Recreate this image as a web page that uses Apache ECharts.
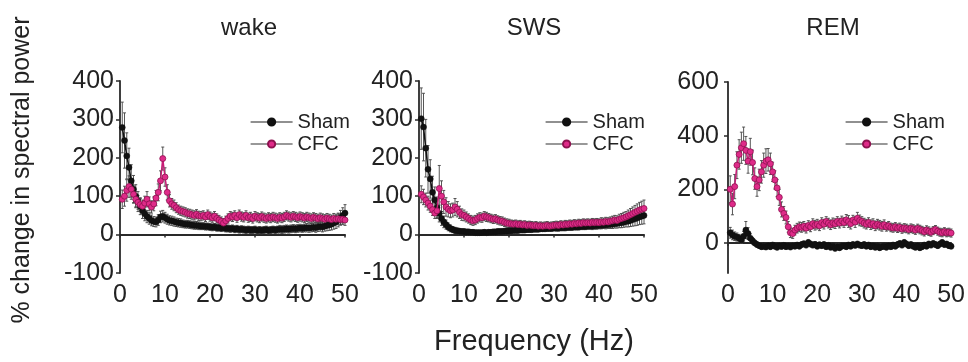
<!DOCTYPE html>
<html>
<head>
<meta charset="utf-8">
<script src="https://cdn.jsdelivr.net/npm/echarts@6/dist/echarts.min.js"></script>
<style>
html,body{margin:0;padding:0;background:#fff;}
#chart{width:968px;height:362px;}
</style>
</head>
<body>
<div id="chart"></div>
<script>
// ---- data ----
const panelTitles = ['wake', 'SWS', 'REM'];
const seriesNames = ['Sham', 'CFC'];
const xTicks = [0, 10, 20, 30, 40, 50];
const yTicksSmall = [-100, 0, 100, 200, 300, 400];
const yTicksRem = [0, 200, 400, 600];

const freq = [
0.5,1,1.5,2,2.5,3,3.5,4,4.5,5,
5.5,6,6.5,7,7.5,8,8.5,9,9.5,10,
10.5,11,11.5,12,12.5,13,13.5,14,14.5,15,
15.5,16,16.5,17,17.5,18,18.5,19,19.5,20,
20.5,21,21.5,22,22.5,23,23.5,24,24.5,25,
25.5,26,26.5,27,27.5,28,28.5,29,29.5,30,
30.5,31,31.5,32,32.5,33,33.5,34,34.5,35,
35.5,36,36.5,37,37.5,38,38.5,39,39.5,40,
40.5,41,41.5,42,42.5,43,43.5,44,44.5,45,
45.5,46,46.5,47,47.5,48,48.5,49,49.5,50];

const wakeSham = [
279,245,205,175,140,118,100,86,74,62,
54,47,42,37,34,33,38,46,48,44,
40,37,36,34,32,31,30,28,27,27,
26,25,24,24,23,22,22,21,21,20,
19,20,18,18,17,18,16,16,15,16,
14,15,13,14,13,12,13,12,12,13,
11,12,11,12,13,11,12,13,12,13,
14,13,14,15,14,15,16,15,16,17,
16,17,18,17,18,19,18,20,21,20,
22,24,25,27,30,33,38,44,50,56];
const wakeShamErr = [
66,72,60,50,42,36,30,26,22,20,
18,16,15,14,13,13,14,15,15,14,
13,12,12,12,11,11,11,10,10,10,
10,10,10,10,10,9,9,9,9,9,
9,9,9,9,9,9,9,9,9,9,
9,9,9,9,9,9,9,9,9,9,
9,9,9,9,9,9,9,9,9,9,
10,10,10,10,10,10,10,10,10,10,
10,10,11,11,11,11,12,12,12,13,
13,14,14,15,16,17,18,19,20,22];
const wakeCfc = [
92,100,115,125,118,105,92,84,78,74,
82,92,80,72,80,95,110,140,198,150,
110,88,80,76,70,65,62,60,58,55,
54,52,50,53,49,48,50,46,52,47,
44,48,42,38,34,30,36,42,48,46,
50,44,52,47,45,50,44,46,42,48,
45,43,47,44,42,45,43,46,44,42,
45,43,46,50,47,45,48,46,44,47,
45,43,46,44,42,45,43,41,44,42,
40,43,41,39,42,40,41,39,40,38];
const wakeCfcErr = [
24,26,28,28,26,22,20,18,16,16,
18,20,18,16,18,20,22,26,30,24,
20,16,14,14,13,12,12,12,12,12,
12,12,12,12,12,12,12,12,12,12,
12,12,12,12,12,12,12,12,12,12,
12,12,12,12,12,12,12,12,12,12,
12,12,12,12,12,12,12,12,12,12,
12,12,12,12,12,12,12,12,12,12,
12,12,12,12,12,12,12,12,12,12,
12,12,12,12,13,13,13,14,14,14];

const swsSham = [
302,280,225,170,145,110,90,70,55,42,
33,26,20,16,13,11,10,9,8,8,
7,7,6,6,5,5,5,5,6,5,
6,6,7,7,8,8,8,9,9,10,
10,11,11,11,12,12,12,13,13,13,
14,14,14,15,15,15,16,16,16,17,
17,17,18,18,18,19,19,19,20,20,
20,21,21,21,22,22,22,23,23,24,
24,25,25,26,26,27,28,29,30,31,
32,34,35,37,39,41,43,46,48,50];
const swsShamErr = [
80,88,75,62,50,42,34,28,22,18,
15,12,10,9,8,8,7,7,7,7,
7,7,7,7,7,7,7,7,7,7,
7,7,7,7,7,7,7,7,7,7,
7,7,7,7,7,7,7,7,7,7,
7,7,7,7,7,7,7,7,7,7,
8,8,8,8,8,8,8,8,8,8,
8,8,8,8,8,8,9,9,9,9,
9,9,10,10,10,11,11,12,12,13,
13,14,15,16,17,18,19,20,21,22];
const swsCfc = [
105,98,90,82,74,65,56,62,120,100,
85,72,66,62,64,72,66,58,52,50,
46,42,38,36,38,42,45,44,48,46,
44,42,40,41,38,36,35,32,30,29,
28,27,28,26,27,25,26,24,25,24,
23,24,22,23,22,23,24,22,23,24,
25,24,26,25,27,26,28,27,29,28,
30,29,31,30,31,30,32,31,32,31,
33,32,34,33,35,36,38,37,40,42,
44,46,49,52,55,58,61,64,66,68];
const swsCfcErr = [
22,20,18,18,16,15,14,18,60,40,
30,24,20,18,18,22,20,16,15,14,
13,12,12,12,12,12,12,12,12,12,
11,11,11,11,11,11,11,11,11,11,
10,10,10,10,10,10,10,10,10,10,
10,10,10,10,10,10,10,10,10,10,
10,10,10,10,10,10,10,10,10,10,
10,10,10,10,10,10,10,10,10,10,
11,11,11,11,11,12,12,12,13,13,
14,14,15,16,17,18,19,20,21,22];

const remSham = [
38,30,25,22,18,12,25,48,35,18,
8,0,-6,-10,-14,-12,-15,-10,-14,-8,
-12,-16,-10,-13,-9,-14,-11,-15,-10,-12,
-8,-12,-6,-3,-8,2,-4,-8,-5,-12,
-7,-10,-6,-14,-9,-16,-12,-20,-14,-18,
-12,-10,-14,-8,-12,-6,-9,-4,-8,-10,
-6,-12,-8,-14,-10,-16,-12,-18,-14,-12,
-16,-10,-14,-8,-12,-6,-2,-8,2,-4,
-10,-6,-12,-16,-10,-18,-14,-8,-12,-4,
-8,-2,-6,-10,-4,2,-6,-4,-10,-12];
const remShamErr = [
20,18,16,15,14,14,18,32,22,16,
12,10,10,10,10,10,10,10,10,10,
10,10,10,10,10,10,10,10,10,10,
10,10,10,10,10,10,10,10,10,10,
10,10,10,10,10,10,10,10,10,10,
10,10,10,10,10,10,10,10,10,10,
10,10,10,10,10,10,10,10,10,10,
10,10,10,10,10,10,10,10,10,10,
10,10,10,10,10,10,10,10,10,10,
10,10,10,10,10,10,10,10,10,10];
const remCfc = [
200,145,210,290,330,355,370,345,305,340,
300,240,210,235,265,290,305,310,295,265,
235,205,170,125,110,95,60,38,35,48,
55,60,58,62,55,65,60,72,66,70,
64,76,70,80,74,68,75,72,80,74,
82,76,86,80,72,85,78,92,84,80,
74,70,76,68,72,64,70,66,62,68,
60,64,58,56,60,55,58,52,56,54,
50,55,52,48,54,50,46,42,48,44,
40,46,50,44,40,38,42,38,40,37];
const remCfcErr = [
50,40,45,50,55,58,62,52,45,50,
46,40,36,40,42,45,46,42,40,36,
34,32,30,28,26,24,20,18,18,18,
18,18,18,18,18,18,18,18,18,18,
18,18,18,18,18,18,18,18,18,18,
18,18,20,22,20,18,20,22,20,18,
18,18,18,18,18,18,18,18,18,18,
16,16,16,16,16,16,16,16,16,16,
16,16,16,16,16,16,16,16,16,16,
15,15,15,15,15,15,15,15,15,15];

// ---- chart ----
const FONT = '"Liberation Sans", Arial, sans-serif';
const TXT = '#222';
const AX = '#2a2a2a';
const PINK = '#df2b89';
const PINK_EDGE = '#8e1250';
const PINK_LINE = '#c81d77';

const grids = [
  {left: 120, width: 225, top: 81, height: 192},
  {left: 419, width: 225, top: 81, height: 192},
  {left: 728, width: 225, top: 82, height: 191}
];

function xAxis(i) {
  return {
    type: 'value', gridIndex: i, min: xTicks[0], max: xTicks[xTicks.length - 1], interval: 10,
    axisLine: {show: true, lineStyle: {color: AX, width: 1.8}},
    axisTick: {show: true, length: 3, lineStyle: {color: AX, width: 1.5}},
    axisLabel: {fontFamily: FONT, fontSize: 25, color: TXT, margin: 10},
    splitLine: {show: false}
  };
}
function yAxisSmall(i) {
  return {
    type: 'value', gridIndex: i, min: yTicksSmall[0], max: yTicksSmall[yTicksSmall.length - 1], interval: 100,
    axisLine: {show: true, lineStyle: {color: AX, width: 1.8}},
    axisTick: {show: true, length: 4, lineStyle: {color: AX, width: 1.5}},
    axisLabel: {fontFamily: FONT, fontSize: 25, color: TXT, margin: 6},
    splitLine: {show: false}
  };
}
function yAxisRem(i) {
  return {
    type: 'value', gridIndex: i, min: -112, max: yTicksRem[yTicksRem.length - 1],
    axisLine: {show: true, lineStyle: {color: AX, width: 1.8}},
    axisTick: {show: true, length: 4, lineStyle: {color: AX, width: 1.5}, customValues: yTicksRem},
    axisLabel: {fontFamily: FONT, fontSize: 25, color: TXT, margin: 9, customValues: yTicksRem},
    splitLine: {show: false}
  };
}

function errSeries(i, vals, errs, z) {
  return {
    type: 'custom', xAxisIndex: i, yAxisIndex: i, silent: true, z: z,
    data: freq.map((f, k) => [f, vals[k] - errs[k], vals[k] + errs[k]]),
    encode: {x: 0, y: [1, 2]},
    renderItem: function (params, api) {
      const x = api.value(0);
      const p1 = api.coord([x, api.value(1)]);
      const p2 = api.coord([x, api.value(2)]);
      const w = 1.5;
      const st = {stroke: '#444', lineWidth: 0.9};
      return {type: 'group', children: [
        {type: 'line', shape: {x1: p1[0], y1: p1[1], x2: p2[0], y2: p2[1]}, style: st},
        {type: 'line', shape: {x1: p1[0] - w, y1: p1[1], x2: p1[0] + w, y2: p1[1]}, style: st},
        {type: 'line', shape: {x1: p2[0] - w, y1: p2[1], x2: p2[0] + w, y2: p2[1]}, style: st}
      ]};
    }
  };
}
function shamSeries(i, vals) {
  return {
    type: 'line', name: seriesNames[0], xAxisIndex: i, yAxisIndex: i, z: 3,
    data: freq.map((f, k) => [f, vals[k]]),
    symbol: 'circle', symbolSize: 6, showSymbol: true, showAllSymbol: true,
    itemStyle: {color: '#111', borderColor: '#111', borderWidth: 0.5},
    lineStyle: {color: '#111', width: 1.5}
  };
}
function cfcSeries(i, vals) {
  return {
    type: 'line', name: seriesNames[1], xAxisIndex: i, yAxisIndex: i, z: 4,
    data: freq.map((f, k) => [f, vals[k]]),
    symbol: 'circle', symbolSize: 6, showSymbol: true, showAllSymbol: true,
    itemStyle: {color: PINK, borderColor: PINK_EDGE, borderWidth: 0.8},
    lineStyle: {color: PINK_LINE, width: 1.5}
  };
}
function legend(left) {
  return {
    orient: 'vertical', left: left, top: 107, itemWidth: 42, itemHeight: 9, itemGap: 2,
    selectedMode: false,
    textStyle: {fontFamily: FONT, fontSize: 20, color: TXT, lineHeight: 20},
    data: [
      {name: seriesNames[0], lineStyle: {color: '#222', width: 1.2}},
      {name: seriesNames[1], lineStyle: {color: '#333', width: 1.2}}
    ]
  };
}

const titleX = [249, 534, 833];
const graphic = panelTitles.map((t, i) => ({
  type: 'text', x: titleX[i], y: 28,
  style: {text: t, font: '24px ' + FONT, fill: TXT, textAlign: 'center', textVerticalAlign: 'middle'}
}));
graphic.push({
  type: 'text', x: 22, y: 170, rotation: Math.PI / 2,
  style: {text: '% change in spectral power', font: '25px ' + FONT, fill: TXT, textAlign: 'center', textVerticalAlign: 'middle'}
});
graphic.push({
  type: 'text', x: 534, y: 342,
  style: {text: 'Frequency (Hz)', font: '29px ' + FONT, fill: TXT, textAlign: 'center', textVerticalAlign: 'middle'}
});

const option = {
  animation: false,
  backgroundColor: '#fff',
  grid: grids,
  xAxis: [xAxis(0), xAxis(1), xAxis(2)],
  yAxis: [yAxisSmall(0), yAxisSmall(1), yAxisRem(2)],
  legend: [legend(245), legend(540), legend(840)],
  graphic: graphic,
  series: [
    errSeries(0, wakeSham, wakeShamErr, 1), errSeries(0, wakeCfc, wakeCfcErr, 2),
    shamSeries(0, wakeSham), cfcSeries(0, wakeCfc),
    errSeries(1, swsSham, swsShamErr, 1), errSeries(1, swsCfc, swsCfcErr, 2),
    shamSeries(1, swsSham), cfcSeries(1, swsCfc),
    errSeries(2, remSham, remShamErr, 1), errSeries(2, remCfc, remCfcErr, 2),
    shamSeries(2, remSham), cfcSeries(2, remCfc)
  ]
};

const chart = echarts.init(document.getElementById('chart'), null, {renderer: 'canvas'});
chart.setOption(option);
</script>
</body>
</html>
